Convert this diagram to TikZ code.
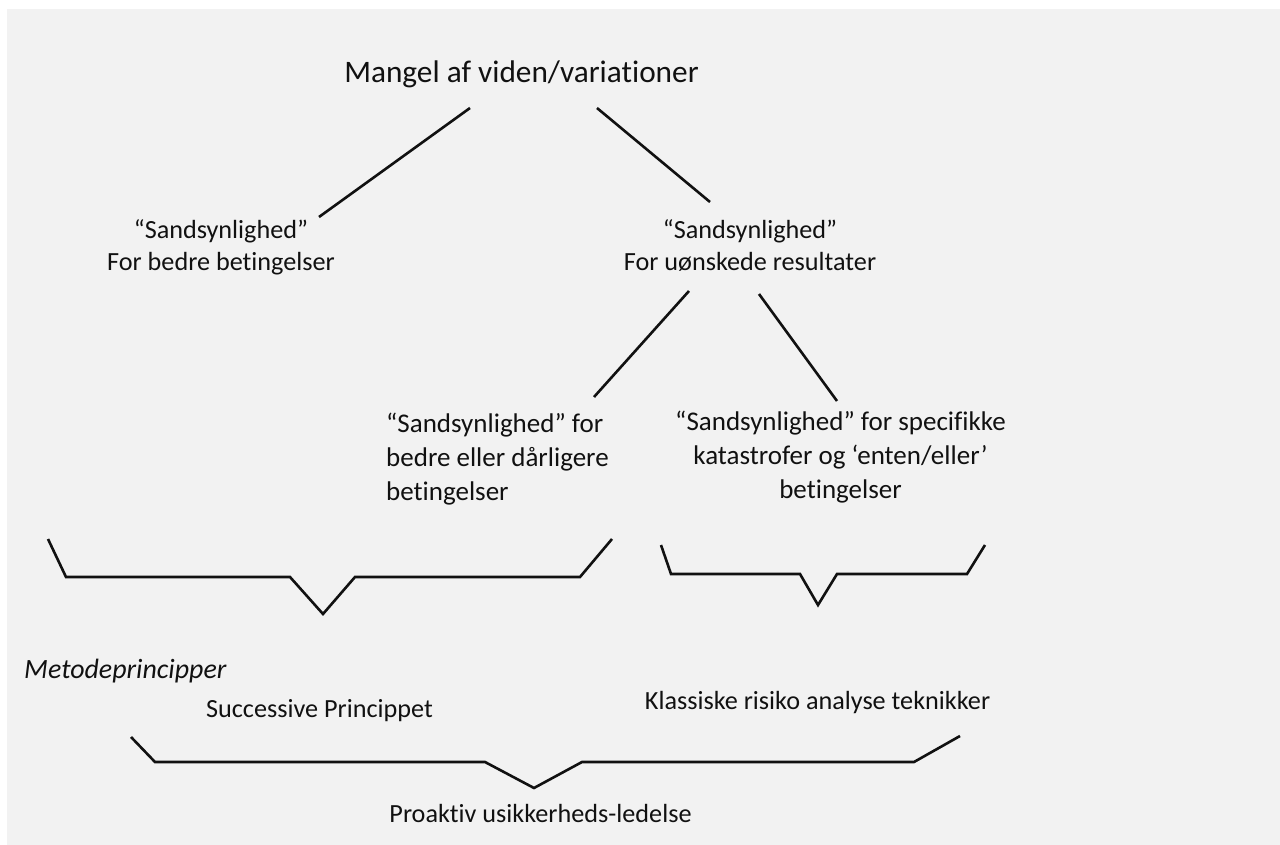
\documentclass[tikz,border=0pt]{standalone}
\usepackage{fontspec}
\setmainfont{Carlito}[Ligatures={NoCommon}]
\definecolor{bgc}{HTML}{F2F2F2}
\definecolor{ink}{HTML}{111111}
\tikzset{
  txt/.style={inner sep=0pt, text=ink, font=\fontsize{26.2}{32}\selectfont},
  bigtxt/.style={inner sep=0pt, text=ink, font=\fontsize{31.3}{36}\selectfont},
  midtxt/.style={inner sep=0pt, text=ink, font=\fontsize{27}{33.8}\selectfont},
  conn/.style={draw=ink, line width=2.6pt},
  bracket/.style={draw=ink, line width=2.6pt, line join=miter}
}
\begin{document}
\begin{tikzpicture}[x=1pt,y=-1pt]
\useasboundingbox (0,0) rectangle (1280,845);
\fill[bgc] (7,9) rectangle (1280,845);

% texts (base anchor = baseline of the last line)
\node[bigtxt, anchor=base] (title) at (521.5,83) {Mangel af viden/variationer};
\node[txt, anchor=base, align=center] (left) at (221,270) {“Sandsynlighed”\\For bedre betingelser};
\node[txt, anchor=base, align=center] (right) at (750,270) {“Sandsynlighed”\\For uønskede resultater};
\node[midtxt, anchor=base west, align=left] (ml) at (386,500) {“Sandsynlighed” for\\bedre eller dårligere\\betingelser};
\node[midtxt, anchor=base, align=center] (mr) at (840.5,498) {“Sandsynlighed” for specifikke\\katastrofer og ‘enten/eller’\\betingelser};
\node[txt, anchor=base west, font=\fontsize{27.9}{32}\selectfont\itshape] (meto) at (24,678) {Metodeprincipper};
\node[txt, anchor=base] (succ) at (319.5,717) {Successive Princippet};
\node[txt, anchor=base] (klas) at (817.5,709) {Klassiske risiko analyse teknikker};
\node[txt, anchor=base] (proa) at (540.5,822) {Proaktiv usikkerheds-ledelse};

% connector end points
\coordinate (t1) at (470,108);
\coordinate (l1) at (319,217);
\coordinate (t2) at (597,108);
\coordinate (r1) at (710,202);
\coordinate (r2) at (689,291);
\coordinate (ml1) at (594,397);
\coordinate (r3) at (759,294);
\coordinate (mr1) at (837,401);

\draw[conn] (t1) -- (l1);
\draw[conn] (t2) -- (r1);
\draw[conn] (r2) -- (ml1);
\draw[conn] (r3) -- (mr1);

% brackets
\draw[bracket] (48,539) -- (66,577) -- (290,577) -- (323,614) -- (355,577) -- (580,577) -- (612,539);
\draw[bracket] (661,545) -- (671,574) -- (800,574) -- (818,605) -- (837,574) -- (967,574) -- (985,545);
\draw[bracket] (131,737) -- (155,762) -- (485,762) -- (534,788) -- (582,762) -- (914,762) -- (960,736);
\end{tikzpicture}
\end{document}
